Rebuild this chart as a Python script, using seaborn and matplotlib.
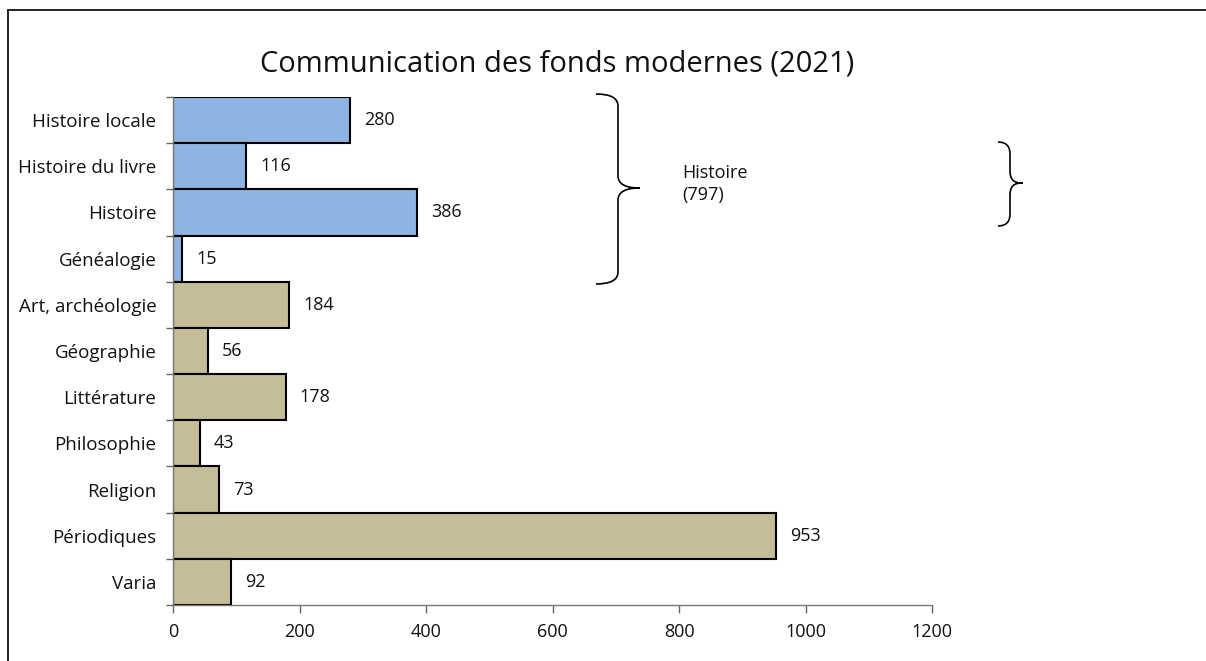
import numpy as np
import pandas as pd
import matplotlib
matplotlib.use("Agg")
import matplotlib.pyplot as plt
import seaborn as sns
from matplotlib.path import Path
from matplotlib.patches import PathPatch
from matplotlib.lines import Line2D
from matplotlib.transforms import Affine2D

categories = ["Histoire locale", "Histoire du livre", "Histoire", "Généalogie",
              "Art, archéologie", "Géographie", "Littérature", "Philosophie",
              "Religion", "Périodiques", "Varia"]
values = [280, 116, 386, 15, 184, 56, 178, 43, 73, 953, 92]
groups = ["Histoire"] * 4 + ["Autres"] * 7
colors = {"Histoire": "#8EB4E3", "Autres": "#C4BD97"}
x_ticks = [0, 200, 400, 600, 800, 1000, 1200]

df = pd.DataFrame({"cat": categories, "val": values, "grp": groups})

sns.set_theme(style="white")
plt.rcParams["font.family"] = ["Open Sans", "DejaVu Sans"]

W, H = 1206, 661
fig = plt.figure(figsize=(W / 100, H / 100), dpi=100)
ax = fig.add_axes([173 / W, 1 - 605 / H, (932 - 173) / W, (605 - 97) / H])

sns.barplot(data=df, x="val", y="cat", hue="grp", palette=colors, dodge=False,
            saturation=1, width=1.0, edgecolor="black", linewidth=1.5,
            legend=False, ax=ax)

for cont in ax.containers:
    ax.bar_label(cont, padding=10, fontsize=13, color="#111111")

ax.set_xlim(0, 1200)
ax.set_xticks(x_ticks)
ax.set_ylim(len(categories) - 0.5, -0.5)
ax.set_yticks(np.arange(-0.5, len(categories)), minor=True)
ax.tick_params(axis="y", which="major", length=0, labelsize=13.5, pad=12,
               labelcolor="#111111")
ax.tick_params(axis="y", which="minor", length=5, width=1, color="#666666", left=True)
ax.tick_params(axis="x", length=6, width=1, color="#666666", labelsize=13, pad=7,
               bottom=True, labelcolor="#111111")
ax.set_xlabel("")
ax.set_ylabel("")
for s in ["top", "right"]:
    ax.spines[s].set_visible(False)
for s in ["left", "bottom"]:
    ax.spines[s].set_color("#777777")
    ax.spines[s].set_linewidth(1)

fig.text(557 / W, 1 - 64 / H, "Communication des fonds modernes (2021)",
         ha="center", va="center", fontsize=21, color="#111111")

# pixel coordinate transform (origin top-left)
pix = Affine2D().scale(1 / W, -1 / H).translate(0, 1) + fig.transFigure


def brace(x0, xm, xt, y0, yt, y1):
    r = 12
    verts = [(x0, y0), (xm, y0), (xm, y0 + r), (xm, yt - r),
             (xm, yt), (xt - 5, yt), (xt, yt),
             (xt - 5, yt), (xm, yt), (xm, yt + r),
             (xm, y1 - r), (xm, y1), (x0, y1)]
    codes = [Path.MOVETO, Path.CURVE3, Path.CURVE3, Path.LINETO,
             Path.CURVE4, Path.CURVE4, Path.CURVE4,
             Path.CURVE4, Path.CURVE4, Path.CURVE4,
             Path.LINETO, Path.CURVE3, Path.CURVE3]
    fig.add_artist(PathPatch(Path(verts, codes), transform=pix, fill=False,
                             edgecolor="black", linewidth=1.2))


brace(596, 618, 640, 94, 188, 284)
brace(998, 1010, 1023, 142, 183, 226)

fig.text(682 / W, 1 - 184 / H, "Histoire\n(797)", ha="left", va="center",
         fontsize=13, linespacing=1.35, color="#111111")

# outer border
fig.add_artist(Line2D([8, W], [10, 10], transform=pix, color="black", linewidth=1.2))
fig.add_artist(Line2D([8, 8], [10, H], transform=pix, color="black", linewidth=1.2))

fig.savefig("out.png", dpi=100)
